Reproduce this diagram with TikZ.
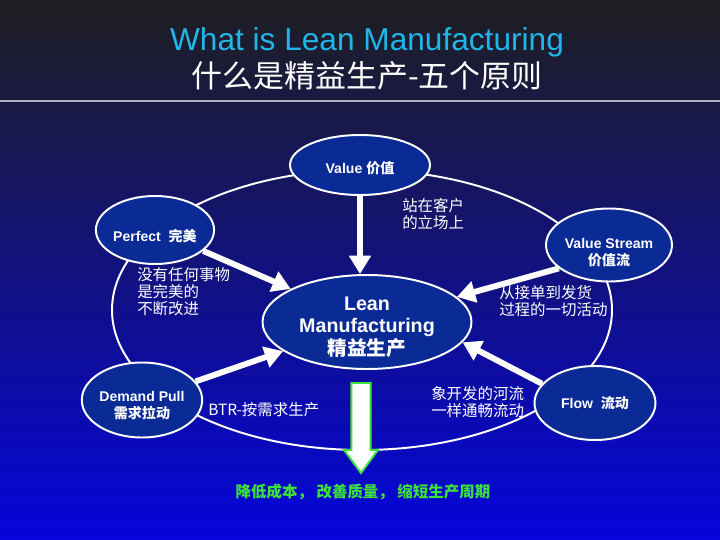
\documentclass[tikz,border=0pt]{standalone}
\usepackage{fontspec}
\setmainfont{Liberation Sans}
\newfontfamily\cjk{Noto Sans CJK SC}
\usepackage{xcolor}
\usepackage{tikz}
\usetikzlibrary{positioning,arrows.meta,shapes.geometric}
\definecolor{bgtop}{RGB}{30,30,32}
\definecolor{bgmid}{RGB}{22,22,135}
\definecolor{bgbot}{RGB}{5,5,220}
\definecolor{nodeblue}{RGB}{10,42,150}
\definecolor{titlecyan}{RGB}{32,182,232}
\definecolor{rulegray}{RGB}{175,175,190}
\definecolor{resultgreen}{RGB}{60,225,60}
% text of a principle, lowered by #1 inside its ellipse
\newcommand{\nodetext}[2][3.5pt]{\raisebox{-#1}[0pt][0pt]{\begin{tabular}{@{}c@{}}#2\end{tabular}}}
\tikzset{
    >={Triangle[length=13pt,width=15pt]},
    principle/.style={
        ellipse,
        draw=white, line width=1.4pt,
        fill=nodeblue,
        text=white,
        inner sep=0pt,
        font={\fontsize{10pt}{10.5pt}\selectfont\bfseries}
    },
    feed/.style={draw=white, line width=4.2pt, ->},
    note/.style={
        anchor=west,
        align=left,
        text=white,
        inner sep=0pt,
        font={\cjk\fontsize{11pt}{12pt}\selectfont}
    },
}

\begin{document}
\begin{tikzpicture}
% background
\shade[top color=bgtop, middle color=bgmid, bottom color=bgbot] (-9,-6.75) rectangle (9,6.75);
\useasboundingbox (-9,-6.75) rectangle (9,6.75);

% title
\node(title) at (0.175, 5.68)[text=titlecyan, font={\fontsize{22.5pt}{26pt}\selectfont}]{What is Lean Manufacturing};
\node(subtitle) at (0.175, 4.85)[text=white, font={\cjk\fontsize{22pt}{26pt}\selectfont}]{什么是精益生产-五个原则};
\coordinate (ruleL) at (-9, 4.225);
\coordinate (ruleR) at (9, 4.225);
\draw[rulegray, line width=2pt] (ruleL) -- (ruleR);

% the cycle
\node(cycle) at (0.05,-1.0)[ellipse, draw=white, line width=1.4pt, minimum width=12.5cm, minimum height=7cm]{};

% five principles
\node(value) at (0, 2.625)[principle, minimum width=3.5cm, minimum height=1.5cm]{\nodetext[5.5pt]{Value {\cjk 价值}}};
\node(perfect) at (-5.125, 1.0)[principle, minimum width=2.875cm, minimum height=1.7cm]{\nodetext[7.8pt]{Perfect\ \ {\cjk 完美}}};
\node(vstream) at (6.225, 0.625)[principle, minimum width=3.15cm, minimum height=1.825cm]{\nodetext[9pt]{Value Stream\\{\cjk 价值流}}};
\node(lean) at (0.175,-1.3)[principle, minimum width=5.225cm, minimum height=2.35cm, font={\fontsize{14pt}{15pt}\selectfont\bfseries}]{\nodetext[8.5pt]{Lean\\Manufacturing\\{\cjk 精益生产}}};
\node(demand) at (-5.45,-3.25)[principle, minimum width=3cm, minimum height=1.875cm]{\nodetext[7.5pt]{Demand Pull\\{\cjk 需求拉动}}};
\node(flow) at (5.875,-3.325)[principle, minimum width=3.025cm, minimum height=1.85cm]{\nodetext{Flow\ \ {\cjk 流动}}};

% arrows into the centre
\draw[feed] (value.south) -- (value.south |- lean.north);
\draw[feed] (perfect) -- (lean);
\draw[feed] (demand) -- (lean);
\draw[feed] (vstream.205) -- (lean);
\draw[feed] (flow.160) -- (lean.-12);

% notes
\node(customer) at (1.05, 1.4)[note]{站在客户\\的立场上};
\node(improve) at (-5.575,-0.54)[note]{没有任何事物\\是完美的\\不断改进};
\node(order) at (3.475,-0.775)[note]{从接单到发货\\过程的一切活动};
\node(btr) at (-3.8,-3.5)[note]{BTR-按需求生产};
\node(river) at (1.775,-3.3)[note]{象开发的河流\\一样通畅流动};

% result
\draw[draw=resultgreen, line width=1.4pt, fill=white, line join=miter]
    (-0.215,-2.825) -- (0.265,-2.825) -- (0.265,-4.5) -- (0.45,-4.5)
    -- (0.025,-5.075) -- (-0.40,-4.5) -- (-0.215,-4.5) -- cycle;
\node(result) at (0.075,-5.55)[text=resultgreen, font={\cjk\fontsize{11pt}{12pt}\selectfont\bfseries}]{降低成本， 改善质量， 缩短生产周期};
\end{tikzpicture}
\end{document}
